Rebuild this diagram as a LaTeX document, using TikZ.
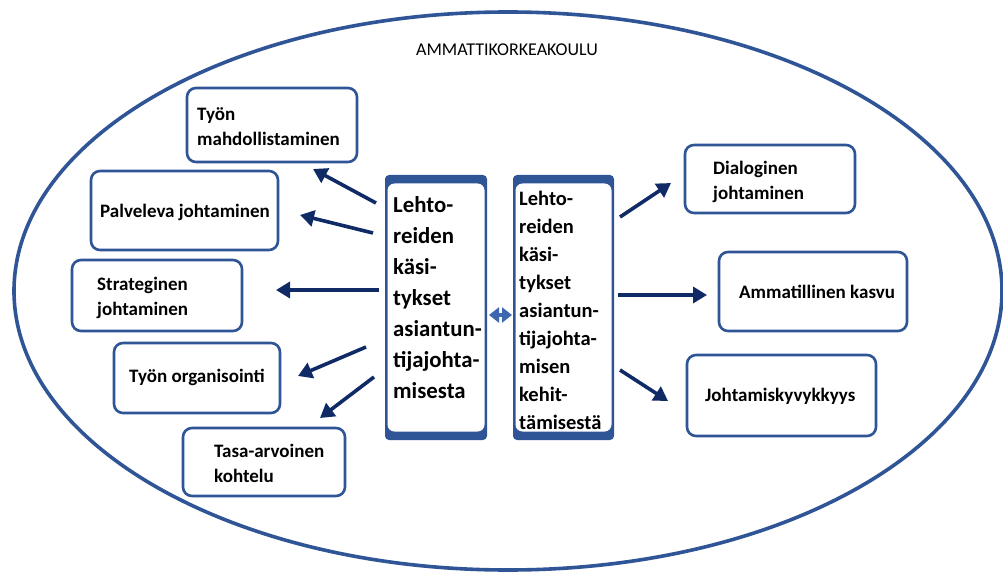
\documentclass[tikz,border=0pt]{standalone}
\usepackage{fontspec}
\setmainfont{Carlito}
\usetikzlibrary{arrows.meta}
\definecolor{bordblue}{HTML}{2F5597}
\definecolor{arrnavy}{HTML}{102A66}
\definecolor{dblblue}{HTML}{3D67B0}
\tikzset{
  box/.style={draw=bordblue, line width=2.6pt, rounded corners=9pt, fill=white, inner sep=0pt},
  boxtext/.style={font=\bfseries\fontsize{19}{25}\selectfont, align=left, anchor=west, inner sep=0pt},
  ctext/.style={font=\bfseries\fontsize{22.8}{31}\selectfont, align=left, anchor=north west, inner sep=0pt},
  ctextr/.style={font=\bfseries\fontsize{20.5}{28}\selectfont, align=left, anchor=north west, inner sep=0pt},
  arr/.style={draw=arrnavy, line width=3.6pt, -{Triangle[length=14pt,width=16pt]}},
  dbl/.style={draw=dblblue, line width=4pt, {Triangle[length=10pt,width=15pt]}-{Triangle[length=10pt,width=15pt]}}
}
\begin{document}
\begin{tikzpicture}[x=1pt,y=-1pt]
\useasboundingbox (0,0) rectangle (1003,572);
\fill[white] (0,0) rectangle (1003,572);
% outer ellipse
\draw[bordblue, line width=3.6pt] (508,291) ellipse [x radius=494, y radius=279];
\node[font=\fontsize{18}{21}\selectfont] (title) at (507,50) {AMMATTIKORKEAKOULU};

% left boxes
\node[box, minimum width=170pt, minimum height=74pt] (b1) at (272,125) {};
\node[boxtext] (tb1) at (197,127) {Työn\\mahdollistaminen};
\node[box, minimum width=187pt, minimum height=79pt] (b2) at (184.5,210.5) {};
\node[boxtext] (tb2) at (100,212) {Palveleva johtaminen};
\node[box, minimum width=170pt, minimum height=71pt] (b3) at (157,295.5) {};
\node[boxtext] (tb3) at (97,298) {Strateginen\\johtaminen};
\node[box, minimum width=166pt, minimum height=70pt] (b4) at (197,378) {};
\node[boxtext] (tb4) at (129,377) {Työn organisointi};
\node[box, minimum width=162pt, minimum height=68pt] (b5) at (264,462) {};
\node[boxtext] (tb5) at (214,463) {Tasa-arvoinen\\kohtelu};

% right boxes
\node[box, minimum width=170pt, minimum height=68pt] (r1) at (770,179) {};
\node[boxtext] (tr1) at (713,182) {Dialoginen\\johtaminen};
\node[box, minimum width=188pt, minimum height=79pt] (r2) at (813,291.5) {};
\node[boxtext] (tr2) at (739,292) {Ammatillinen kasvu};
\node[box, minimum width=189pt, minimum height=81pt] (r3) at (781.5,395.5) {};
\node[boxtext] (tr3) at (705,396) {Johtamiskyvykkyys};

% central boxes
\fill[bordblue, rounded corners=4pt] (385,175) rectangle (487,440);
\fill[white, rounded corners=7pt] (387.5,183.5) rectangle (484.5,431.5);
\node[minimum width=102pt, minimum height=265pt, inner sep=0pt] (L) at (436,307.5) {};
\node[ctext] (Lt) at (393,196) {Lehto-\\reiden\\käsi-\\tykset\\asiantun-\\tijajohta-\\misesta};

\fill[bordblue, rounded corners=4pt] (513,175) rectangle (614,440);
\fill[white, rounded corners=7pt] (515.5,183.5) rectangle (611.5,431.5);
\node[minimum width=101pt, minimum height=265pt, inner sep=0pt] (R) at (563.5,307.5) {};
\node[ctextr] (Rt) at (519,191) {Lehto-\\reiden\\käsi-\\tykset\\asiantun-\\tijajohta-\\misen\\kehit-\\tämisestä};

% arrow coordinates
\coordinate (s1) at (376,203); \coordinate (e1) at (313,169);
\coordinate (s2) at (373,233); \coordinate (e2) at (300,215);
\coordinate (s3) at (379,290); \coordinate (e3) at (276,290);
\coordinate (s4) at (366,347); \coordinate (e4) at (298,376);
\coordinate (s5) at (374,377); \coordinate (e5) at (320,418);
\coordinate (t1) at (620,217); \coordinate (f1) at (671,183);
\coordinate (t2) at (618,295); \coordinate (f2) at (707,295);
\coordinate (t3) at (620,370); \coordinate (f3) at (668,401);
\coordinate (d1) at (489,315); \coordinate (d2) at (512,315);

\draw[arr] (s1) -- (e1);
\draw[arr] (s2) -- (e2);
\draw[arr] (s3) -- (e3);
\draw[arr] (s4) -- (e4);
\draw[arr] (s5) -- (e5);
\draw[arr] (t1) -- (f1);
\draw[arr] (t2) -- (f2);
\draw[arr] (t3) -- (f3);
\draw[dbl] (d1) -- (d2);
\end{tikzpicture}
\end{document}
